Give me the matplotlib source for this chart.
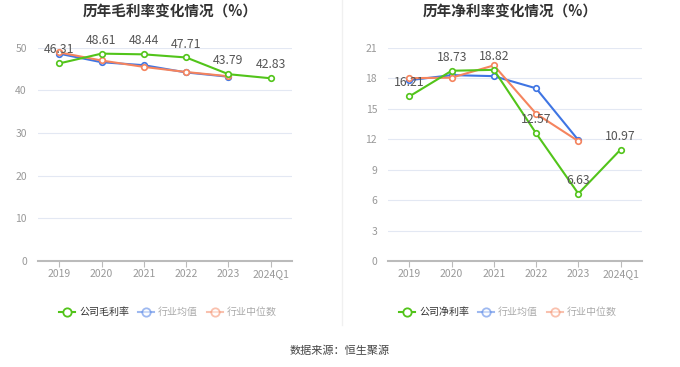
import matplotlib
matplotlib.use("Agg")
import matplotlib.pyplot as plt
from matplotlib.lines import Line2D

plt.rcParams['font.family'] = ['Noto Sans CJK SC', 'DejaVu Sans']

categories = ["2019", "2020", "2021", "2022", "2023", "2024Q1"]

gross_company = [46.31, 48.61, 48.44, 47.71, 43.79, 42.83]
gross_mean = [48.6, 46.6, 45.9, 44.2, 43.2]
gross_median = [48.9, 47.0, 45.5, 44.3, 43.3]

net_company = [16.21, 18.73, 18.82, 12.57, 6.63, 10.97]
net_mean = [17.8, 18.3, 18.2, 17.0, 11.9]
net_median = [18.0, 18.05, 19.26, 14.5, 11.8]

titles = ["历年毛利率变化情况（%）", "历年净利率变化情况（%）"]
legend_labels = [["公司毛利率", "行业均值", "行业中位数"], ["公司净利率", "行业均值", "行业中位数"]]
yticks_list = [[0, 10, 20, 30, 40, 50], [0, 3, 6, 9, 12, 15, 18, 21]]
source_text = "数据来源：恒生聚源"

GREEN = "#52c41a"
BLUE = "#3f75e3"
ORANGE = "#f5845e"

W, H = 680, 367
fig = plt.figure(figsize=(W / 100, H / 100), dpi=100)

def fx(px):
    return px / W

def fy(py):
    return 1 - py / H

panels = [
    dict(x0=38, x1=292, comp=gross_company, mean=gross_mean, med=gross_median, cx=168),
    dict(x0=388.3, x1=641.7, comp=net_company, mean=net_mean, med=net_median, cx=508),
]
y_top, y_bot = 47.7, 261

for i, p in enumerate(panels):
    ax = fig.add_axes([fx(p["x0"]), fy(y_bot), fx(p["x1"] - p["x0"]), (y_bot - y_top) / H])
    yt = yticks_list[i]
    x = list(range(len(categories)))
    ax.set_xlim(-0.5, len(categories) - 0.5)
    ax.set_ylim(yt[0], yt[-1])
    ax.set_yticks(yt)
    ax.set_yticklabels([str(v) for v in yt])
    ax.set_xticks(x)
    ax.set_xticklabels(categories)
    for s in ["top", "right", "left"]:
        ax.spines[s].set_visible(False)
    ax.spines["bottom"].set_color("#bbbbbb")
    ax.spines["bottom"].set_linewidth(1.5)
    ax.tick_params(axis="y", length=0, labelsize=7.5, labelcolor="#999999", pad=8)
    ax.tick_params(axis="x", length=4, color="#bbbbbb", labelsize=7.5, labelcolor="#999999", pad=2)
    ax.grid(axis="y", color="#e3e8f3", linewidth=0.8)
    ax.set_axisbelow(True)

    mk = dict(marker="o", markersize=4, markerfacecolor="white", markeredgewidth=1.2)
    ax.plot(x[:len(p["mean"])], p["mean"], color=BLUE, lw=1.5, markeredgecolor=BLUE, zorder=3, clip_on=False, **mk)
    ax.plot(x[:len(p["med"])], p["med"], color=ORANGE, lw=1.5, markeredgecolor=ORANGE, zorder=4, clip_on=False, **mk)
    ax.plot(x, p["comp"], color=GREEN, lw=1.5, markeredgecolor=GREEN, zorder=5, clip_on=False, **mk)
    for xi, v in zip(x, p["comp"]):
        ax.annotate(f"{v:.2f}", (xi, v), xytext=(0, 5), textcoords="offset points",
                    ha="center", va="bottom", fontsize=8.8, color="#555555", zorder=6)

    fig.text(fx(p["cx"] + 2), fy(12), titles[i], ha="center", va="center",
             fontsize=10.5, fontweight="bold", color="#333333")

    handles = [
        Line2D([], [], color=GREEN, lw=1.5, marker="o", markersize=6, markerfacecolor="white", markeredgecolor=GREEN, markeredgewidth=1.3),
        Line2D([], [], color=BLUE, lw=1.5, marker="o", markersize=6, markerfacecolor="white", markeredgecolor=BLUE, markeredgewidth=1.3, alpha=0.5),
        Line2D([], [], color=ORANGE, lw=1.5, marker="o", markersize=6, markerfacecolor="white", markeredgecolor=ORANGE, markeredgewidth=1.3, alpha=0.5),
    ]
    leg = fig.legend(handles, legend_labels[i], loc="center", bbox_to_anchor=(fx(p["cx"]), fy(312)),
                     ncol=3, frameon=False, fontsize=7.2, handlelength=1.6, handletextpad=0.4,
                     columnspacing=0.9)
    for j, t in enumerate(leg.get_texts()):
        t.set_color("#333333" if j == 0 else "#aaaaaa")

fig.add_artist(Line2D([fx(341.5), fx(341.5)], [fy(0), fy(325)], color="#f0f0f0", lw=1))
fig.text(fx(340), fy(351), source_text, ha="center", va="center", fontsize=8, color="#444444")

fig.savefig("out.png", dpi=100)
